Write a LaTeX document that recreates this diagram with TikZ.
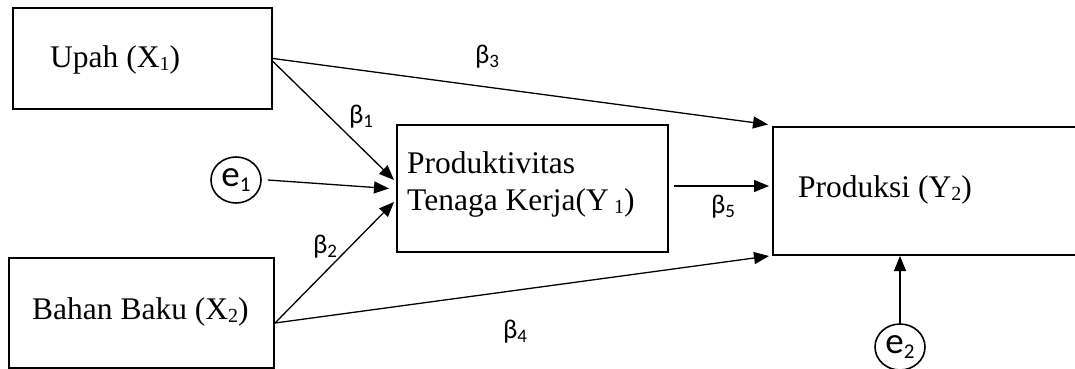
\documentclass[tikz,border=0pt]{standalone}
\usepackage{fontspec}
\setmainfont{Liberation Serif}
\newfontfamily\betafont{Carlito}
\usetikzlibrary{arrows.meta,shapes.geometric,calc}
\newcommand{\tsub}[1]{\raisebox{-3.5pt}{\fontsize{20}{20}\selectfont #1}}
\newcommand{\bsub}[1]{\raisebox{-3.5pt}{\fontsize{19}{19}\selectfont #1}}
\newcommand{\esub}[1]{\raisebox{-5pt}{\fontsize{21}{21}\selectfont #1}}
\begin{document}
\begin{tikzpicture}[x=1pt,y=-1pt,
  box/.style={draw,line width=2pt,rectangle,inner sep=0pt},
  err/.style={draw,line width=1.6pt,ellipse,inner sep=0pt,minimum width=50pt,minimum height=46pt,font=\betafont\fontsize{37}{37}\selectfont},
  txt/.style={anchor=base west,inner sep=0pt,font=\fontsize{31.5}{36}\selectfont},
  lab/.style={inner sep=0pt,font=\betafont\fontsize{27}{27}\selectfont},
  conn/.style={line width=1.3pt,-{Triangle[length=15pt,width=12pt]}},
  ln/.style={line width=1.3pt}]
\clip (0,0) rectangle (1075,369);
\fill[white] (0,0) rectangle (1075,369);
% boxes
\node[box,minimum width=259pt,minimum height=101pt] (x1) at (142.5,58.5) {};
\node[box,minimum width=265pt,minimum height=110pt] (x2) at (141.5,313) {};
\node[box,minimum width=271pt,minimum height=127pt] (y1) at (532.5,188.5) {};
\node[box,minimum width=317pt,minimum height=128pt] (y2) at (931.5,191) {};
% texts
\node[txt] (tx1) at (50,67) {Upah (X\tsub{1})};
\node[txt] (tx2) at (32,319) {Bahan Baku (X\tsub{2})};
\node[txt] (ty1a) at (407,173) {Produktivitas};
\node[txt] (ty1b) at (407,210) {Tenaga Kerja(Y\,\tsub{1})};
\node[txt] (ty2) at (798,197) {Produksi (Y\tsub{2})};
% error terms
\node[err] (e1) at (236,180) {e\esub{1}};
\node[err] (e2) at (900,347) {e\esub{2}};
% connectors
\draw[conn] (x1.east) -- ([xshift=-4pt,yshift=1.5pt]y2.north west);
\draw[conn] ([yshift=-3pt]x1.east) -- ([xshift=-2pt,yshift=8.5pt]y1.west);
\draw[conn] ([xshift=6pt]e1.east) -- ([xshift=-7pt]y1.west);
\draw[conn] ([yshift=-10pt]x2.east) -- ([xshift=-2pt,yshift=-13.5pt]y1.west);
\draw[conn] ([yshift=-10pt]x2.east) -- ([xshift=-3pt]y2.south west);
\draw[conn] ([xshift=5pt,yshift=2.5pt]y1.east) -- ([xshift=-3pt,yshift=5pt]y2.west);
\draw[conn] (e2.north) -- (e2.north |- y2.south);
% labels
\node[lab] (b1) at (361,117) {β\bsub{1}};
\node[lab] (b2) at (325,247) {β\bsub{2}};
\node[lab] (b3) at (487,57) {β\bsub{3}};
\node[lab] (b4) at (515,332) {β\bsub{4}};
\node[lab] (b5) at (723,207) {β\bsub{5}};
\end{tikzpicture}
\end{document}
